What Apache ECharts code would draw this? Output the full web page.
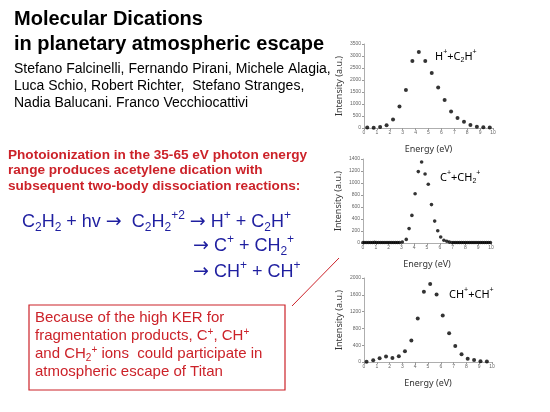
<!DOCTYPE html>
<html>
<head>
<meta charset="utf-8">
<script src="https://cdn.jsdelivr.net/npm/echarts@6/dist/echarts.min.js"></script>
<style>
  html, body { margin: 0; padding: 0; background: #fff; }
  #main { width: 550px; height: 412px; }
</style>
</head>
<body>
<div id="main"></div>
<script>
// H+ + C2H+
const energy1 = [0.25, 0.75, 1.25, 1.75, 2.25, 2.75, 3.25, 3.75, 4.25, 4.75,
  5.25, 5.75, 6.25, 6.75, 7.25, 7.75, 8.25, 8.75, 9.25, 9.75];
const intensity1 = [20, 15, 40, 110, 350, 900, 1580, 2790, 3170, 2790,
  2290, 1690, 1170, 690, 420, 265, 125, 55, 30, 20];

// C+ + CH2+
const energy2 = [0, 0.15, 0.3, 0.45, 0.6, 0.75, 0.9, 1.05, 1.2, 1.35,
  1.5, 1.65, 1.8, 1.95, 2.1, 2.25, 2.4, 2.55, 2.7, 2.85,
  3.07, 3.38, 3.6, 3.82, 4.07, 4.32, 4.58, 4.85, 5.1, 5.35,
  5.6, 5.84, 6.07, 6.32, 6.55, 6.75,
  6.95, 7.1, 7.25, 7.4, 7.55, 7.7, 7.85, 8.0, 8.15, 8.3,
  8.45, 8.6, 8.75, 8.9, 9.05, 9.2, 9.35, 9.5, 9.65, 9.8, 9.95];
const intensity2 = [8, 8, 8, 8, 8, 8, 10, 8, 8, 8,
  8, 8, 8, 8, 8, 8, 8, 8, 8, 8,
  17, 60, 240, 460, 820, 1190, 1350, 1150, 980, 640,
  365, 205, 100, 45, 28, 15,
  8, 8, 8, 8, 8, 8, 8, 8, 8, 8,
  8, 8, 8, 8, 8, 8, 8, 8, 8, 8, 8];

// CH+ + CH+
const energy3 = [0.2, 0.72, 1.22, 1.72, 2.22, 2.72, 3.2, 3.7, 4.2, 4.68,
  5.17, 5.67, 6.15, 6.65, 7.13, 7.62, 8.1, 8.6, 9.1, 9.6];
const intensity3 = [8, 40, 90, 130, 95, 135, 255, 510, 1035, 1675,
  1855, 1610, 1110, 685, 380, 185, 80, 48, 16, 10];

const yMax = [3500, 1400, 2000];
const yStep = [500, 200, 400];

const chartDom = document.getElementById('main');
const myChart = echarts.init(chartDom);

const red = '#cc2229';
const blue = '#1f1fa0';
const sans = 'Liberation Sans, Arial, sans-serif';
const plotFont = 'Noto Sans, sans-serif';

const grids = [
  { left: 364, top: 44, width: 129, height: 84 },
  { left: 363, top: 159, width: 128, height: 84 },
  { left: 364, top: 278, width: 128, height: 84 },
];

function makeX(i) {
  return {
    gridIndex: i, type: 'value', min: 0, max: 10, interval: 1,
    name: 'Energy (eV)', nameLocation: 'middle', nameGap: 17,
    nameTextStyle: { fontSize: 9, color: '#333', fontFamily: plotFont },
    axisLine: { lineStyle: { color: '#999', width: 0.8 } },
    axisTick: { length: 2, lineStyle: { color: '#999' } },
    axisLabel: { fontSize: 5, color: '#666', margin: 2 },
    splitLine: { show: false },
  };
}

function makeY(i) {
  return {
    gridIndex: i, type: 'value', min: 0, max: yMax[i], interval: yStep[i],
    name: 'Intensity (a.u.)', nameLocation: 'middle', nameGap: 20,
    nameTextStyle: { fontSize: 9, color: '#333', fontFamily: plotFont },
    axisLine: { show: true, lineStyle: { color: '#999', width: 0.8 } },
    axisTick: { show: true, length: 2, lineStyle: { color: '#999' } },
    axisLabel: { fontSize: 5, color: '#666', margin: 3, formatter: (v) => String(v) },
    splitLine: { show: false },
  };
}

function pairs(xs, ys) {
  return xs.map((x, k) => [x, ys[k]]);
}

// sub/superscripts and arrow for the reaction lines
const eqRich = {
  s: { fontSize: 12, verticalAlign: 'bottom', fill: blue },
  p: { fontSize: 12, verticalAlign: 'top', fill: blue },
  a: { fontSize: 19, fontFamily: 'DejaVu Sans', fill: blue, lineHeight: 24 },
};
const plotRich = { s: { fontSize: 7, verticalAlign: 'bottom' }, p: { fontSize: 7, verticalAlign: 'top' } };

let option = {
  backgroundColor: '#fff',
  animation: false,
  grid: grids,
  xAxis: [makeX(0), makeX(1), makeX(2)],
  yAxis: [makeY(0), makeY(1), makeY(2)],
  series: [
    { type: 'scatter', xAxisIndex: 0, yAxisIndex: 0, symbolSize: 4,
      itemStyle: { color: '#000' }, data: pairs(energy1, intensity1) },
    { type: 'scatter', xAxisIndex: 1, yAxisIndex: 1, symbolSize: 3.6,
      itemStyle: { color: '#000' }, data: pairs(energy2, intensity2) },
    { type: 'scatter', xAxisIndex: 2, yAxisIndex: 2, symbolSize: 4,
      itemStyle: { color: '#000' }, data: pairs(energy3, intensity3) },
  ],
  graphic: [
    // title + authors
    { type: 'text', x: 14, y: 7, style: {
      text: 'Molecular Dications\nin planetary atmospheric escape',
      font: 'bold 20px ' + sans, lineHeight: 25, fill: '#000' } },
    { type: 'text', x: 14, y: 61, style: {
      text: 'Stefano Falcinelli, Fernando Pirani, Michele Alagia,\nLuca Schio, Robert Richter,  Stefano Stranges,\nNadia Balucani. Franco Vecchiocattivi',
      font: '14px ' + sans, lineHeight: 17, fill: '#000' } },
    // red statement
    { type: 'text', x: 8, y: 147, style: {
      text: 'Photoionization in the 35-65 eV photon energy\nrange produces acetylene dication with\nsubsequent two-body dissociation reactions:',
      font: 'bold 13.6px ' + sans, lineHeight: 15.5, fill: red } },
    // reactions
    { type: 'text', x: 22, y: 210, style: {
      text: 'C{s|2}H{s|2} + hv {a|\u2192}  C{s|2}H{s|2}{p|+2} {a|\u2192} H{p|+} + C{s|2}H{p|+}',
      font: '18px ' + sans, lineHeight: 24, fill: blue, rich: eqRich } },
    { type: 'text', x: 193, y: 234, style: {
      text: '{a|\u2192} C{p|+} + CH{s|2}{p|+}',
      font: '18px ' + sans, lineHeight: 24, fill: blue, rich: eqRich } },
    { type: 'text', x: 193, y: 260, style: {
      text: '{a|\u2192} CH{p|+} + CH{p|+}',
      font: '18px ' + sans, lineHeight: 24, fill: blue, rich: eqRich } },
    // boxed note
    { type: 'rect', shape: { x: 29, y: 305, width: 256, height: 85 },
      style: { fill: 'none', stroke: red, lineWidth: 1.2 } },
    { type: 'line', shape: { x1: 292, y1: 306, x2: 339, y2: 258 },
      style: { stroke: red, lineWidth: 1 } },
    { type: 'text', x: 35, y: 309, style: {
      text: 'Because of the high KER for\nfragmentation products, C{p|+}, CH{p|+}\nand CH{s|2}{p|+} ions  could participate in\natmospheric escape of Titan',
      font: '15px ' + sans, lineHeight: 18, fill: red,
      rich: { s: { fontSize: 10, verticalAlign: 'bottom', fill: red },
              p: { fontSize: 10, verticalAlign: 'top', fill: red } } } },
    // plot labels
    { type: 'text', x: 435, y: 49, style: {
      text: 'H{p|+}+C{s|2}H{p|+}', font: '11px ' + plotFont, lineHeight: 15, fill: '#000', rich: plotRich } },
    { type: 'text', x: 440, y: 170, style: {
      text: 'C{p|+}+CH{s|2}{p|+}', font: '11px ' + plotFont, lineHeight: 15, fill: '#000', rich: plotRich } },
    { type: 'text', x: 449, y: 287, style: {
      text: 'CH{p|+}+CH{p|+}', font: '11px ' + plotFont, lineHeight: 15, fill: '#000', rich: plotRich } },
  ],
};

option && myChart.setOption(option);
</script>
</body>
</html>
